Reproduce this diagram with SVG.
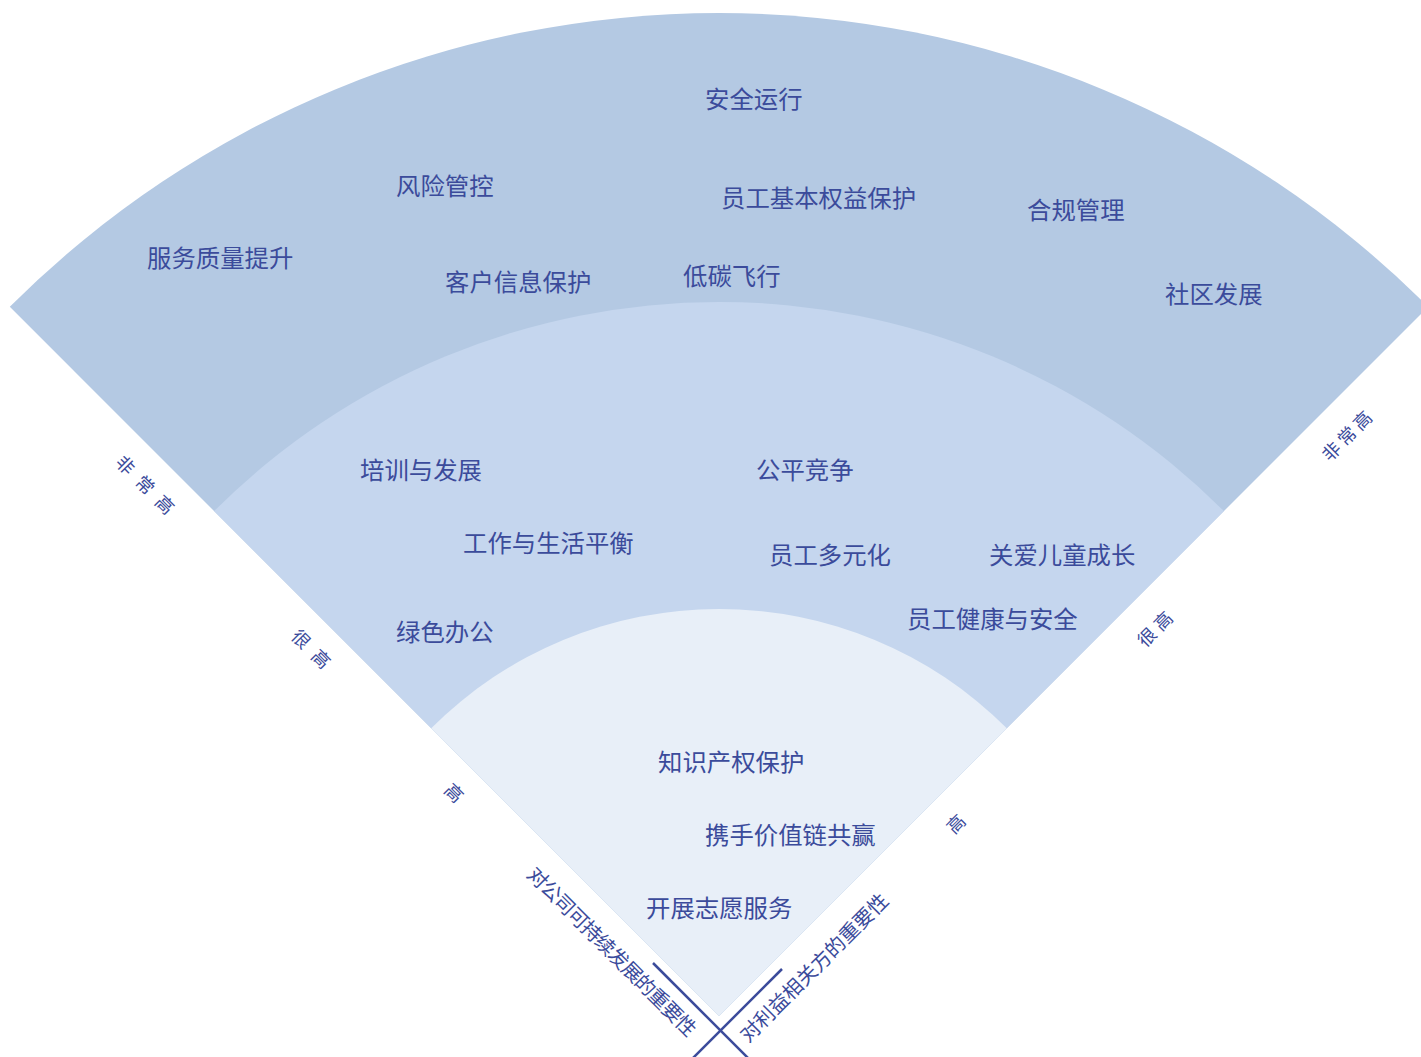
<svg xmlns="http://www.w3.org/2000/svg" width="1421" height="1057" viewBox="0 0 1421 1057">
<style>
.lbl{font-family:"Noto Sans CJK SC","Noto Sans",sans-serif;font-size:24.4px;fill:#3b4b9b;}
.side{font-family:"Noto Sans CJK SC","Noto Sans",sans-serif;font-size:18px;fill:#3b4b9b;dominant-baseline:central;}
.axis{font-family:"Noto Sans CJK SC","Noto Sans",sans-serif;font-size:20px;fill:#3b4b9b;dominant-baseline:central;}
.ln{stroke:#3b4b9b;stroke-width:2.5;fill:none;}
</style>
<rect width="1421" height="1057" fill="#ffffff"/>
<g id="bands">
<path id="band-outer" d="M719,1016 L9.8,306.8 A1003,1003 0 0 1 1428.2,306.8 Z" fill="#b4c9e3"/>
<path id="band-middle" d="M719,1016 L214.1,511.1 A714,714 0 0 1 1223.9,511.1 Z" fill="#c5d6ee"/>
<path id="band-inner" d="M719,1016 L431.2,728.2 A407,407 0 0 1 1006.8,728.2 Z" fill="#e8eff8"/>
</g>
<g id="connectors">
<line class="ln" x1="653" y1="963" x2="748" y2="1058"/>
<line class="ln" x1="782" y1="969" x2="693" y2="1058"/>
</g>
<g id="n-anquan"><text class="lbl" x="705" y="108">安全运行</text></g>
<g id="n-fengxian"><text class="lbl" x="396" y="195">风险管控</text></g>
<g id="n-yuangongquanyi"><text class="lbl" x="721" y="207">员工基本权益保护</text></g>
<g id="n-hegui"><text class="lbl" x="1027" y="219">合规管理</text></g>
<g id="n-fuwu"><text class="lbl" x="147" y="267">服务质量提升</text></g>
<g id="n-kehu"><text class="lbl" x="445" y="291">客户信息保护</text></g>
<g id="n-ditan"><text class="lbl" x="683" y="285">低碳飞行</text></g>
<g id="n-shequ"><text class="lbl" x="1165" y="303">社区发展</text></g>
<g id="n-peixun"><text class="lbl" x="360" y="479">培训与发展</text></g>
<g id="n-gongping"><text class="lbl" x="756" y="479">公平竞争</text></g>
<g id="n-gongzuo"><text class="lbl" x="463" y="552">工作与生活平衡</text></g>
<g id="n-duoyuan"><text class="lbl" x="769" y="564">员工多元化</text></g>
<g id="n-guanai"><text class="lbl" x="989" y="564">关爱儿童成长</text></g>
<g id="n-lvse"><text class="lbl" x="396" y="641">绿色办公</text></g>
<g id="n-jiankang"><text class="lbl" x="907" y="628">员工健康与安全</text></g>
<g id="n-zhishi"><text class="lbl" x="658" y="771">知识产权保护</text></g>
<g id="n-xieshou"><text class="lbl" x="705" y="844">携手价值链共赢</text></g>
<g id="n-zhiyuan"><text class="lbl" x="646" y="917">开展志愿服务</text></g>
<g id="side-labels">
<text class="side" transform="translate(146,484) rotate(45)" x="-37" y="0" letter-spacing="10">非常高</text>
<text class="side" transform="translate(312,648) rotate(45)" x="-23" y="0" letter-spacing="10">很高</text>
<text class="side" transform="translate(455,792) rotate(45)" x="-9" y="0">高</text>
<text class="side" transform="translate(1346,435) rotate(-45)" x="-31" y="0" letter-spacing="4">非常高</text>
<text class="side" transform="translate(1154,628) rotate(-45)" x="-20.5" y="0" letter-spacing="5">很高</text>
<text class="side" transform="translate(955,823) rotate(-45)" x="-9" y="0">高</text>
</g>
<g id="axis-labels">
<text class="axis" transform="translate(616,954) rotate(45)" x="-119" y="0" font-size="21" letter-spacing="-1">对公司可持续发展的重要性</text>
<text class="axis" transform="translate(811,969) rotate(-45)" x="-97" y="0" font-size="19.5">对利益相关方的重要性</text>
</g>
</svg>
